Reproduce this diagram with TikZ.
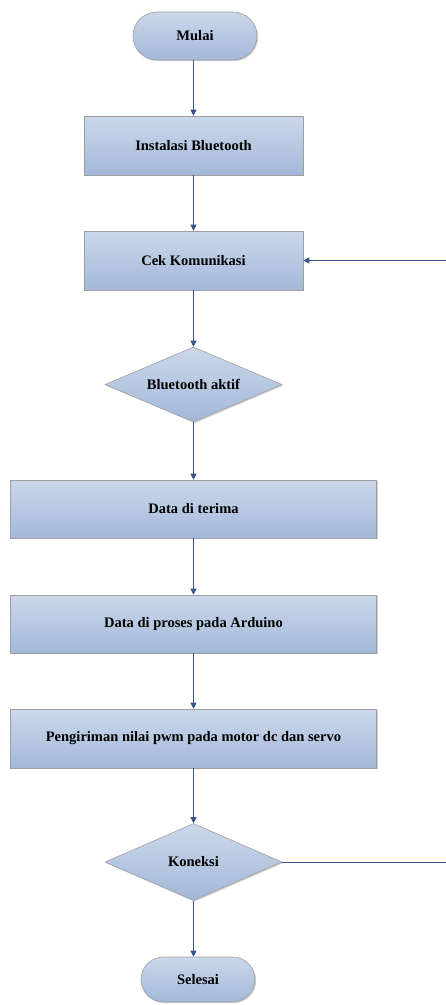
\documentclass[tikz,border=0pt]{standalone}
\usepackage{fontspec}
\setmainfont{Liberation Serif}
\usepackage{tikz}
\usetikzlibrary{shapes.geometric,shapes.misc,shadows,arrows.meta}

\definecolor{boxtop}{RGB}{203,216,235}
\definecolor{boxbot}{RGB}{163,184,216}
\definecolor{flowblue}{RGB}{52,84,138}

\tikzset{
	blok/.style={rectangle, draw=gray!75, line width=0.6pt, top color=boxtop, bottom color=boxbot,
		drop shadow={shadow xshift=1.2pt, shadow yshift=-1.2pt, fill=gray!70},
		inner sep=0pt, font=\fontsize{14.5}{16}\selectfont\bfseries},
	terminal/.style={blok, rounded rectangle},
	keputusan/.style={blok, diamond, aspect=2.35},
	alur/.style={draw=flowblue, line width=0.8pt, -{Triangle[length=6pt,width=6pt]}}
}

\begin{document}
\begin{tikzpicture}[x=1pt,y=-1pt]
	\useasboundingbox (0,0) rectangle (446,1005);
	\clip (0,0) rectangle (446,1005);
	%\draw[help lines] (0,0) grid[step=50] (446,1005);
	\node[terminal, minimum width=124pt, minimum height=48pt] (mulai) at (195,36) {Mulai};
	\node[blok, minimum width=219pt, minimum height=59pt] (instal) at (193.5,145.5) {Instalasi Bluetooth};
	\node[blok, minimum width=219pt, minimum height=59pt] (cek) at (193.5,260.5) {Cek Komunikasi};
	\node[keputusan, minimum width=177pt, minimum height=75pt] (aktif) at (193.5,384.5) {Bluetooth aktif};
	\node[blok, minimum width=366pt, minimum height=58pt] (terima) at (193.5,509) {Data di terima};
	\node[blok, minimum width=366pt, minimum height=58pt] (proses) at (193.5,624) {Data di proses pada Arduino};
	\node[blok, minimum width=366pt, minimum height=59pt] (kirim) at (193.5,738.5) {Pengiriman nilai pwm pada motor dc dan servo};
	\node[keputusan, minimum width=177pt, minimum height=77pt] (koneksi) at (193.5,862) {Koneksi};
	\node[terminal, minimum width=114pt, minimum height=45pt] (selesai) at (198,979.5) {Selesai};

	\draw[alur] (mulai.south -| aktif) -- (instal.north);
	\draw[alur] (instal) -- (cek);
	\draw[alur] (cek) -- (aktif);
	\draw[alur] (aktif) -- (terima);
	\draw[alur] (terima) -- (proses);
	\draw[alur] (proses) -- (kirim);
	\draw[alur] (kirim) -- (koneksi);
	\draw[alur] (koneksi.south) -- (selesai.north -| aktif);
	\draw[alur] (koneksi.east) -- ++(172,0) |- (cek.east);
\end{tikzpicture}
\end{document}
